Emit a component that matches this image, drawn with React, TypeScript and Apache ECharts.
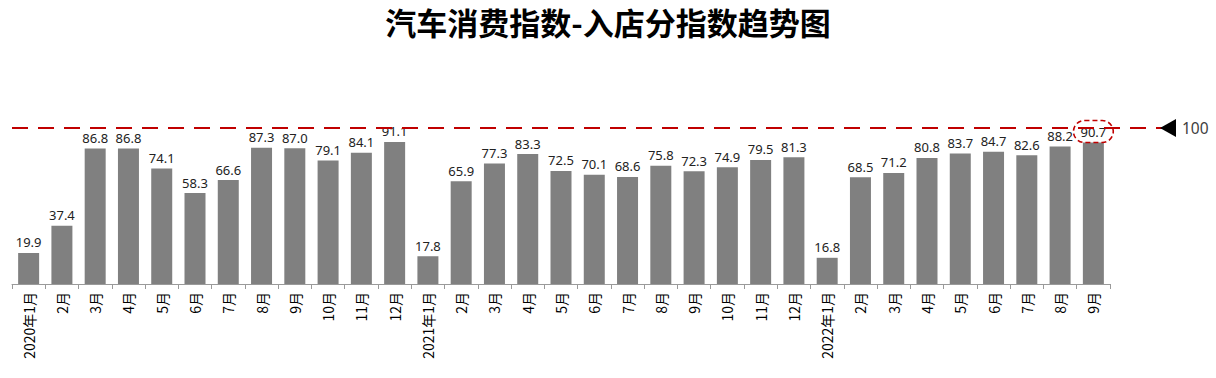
import React, { useEffect, useRef } from "react";
import * as echarts from "echarts";

const categories: string[] = [
  "2020年1月", "2月", "3月", "4月", "5月", "6月", "7月", "8月", "9月", "10月", "11月", "12月",
  "2021年1月", "2月", "3月", "4月", "5月", "6月", "7月", "8月", "9月", "10月", "11月", "12月",
  "2022年1月", "2月", "3月", "4月", "5月", "6月", "7月", "8月", "9月",
];

const values2020: number[] = [19.9, 37.4, 86.8, 86.8, 74.1, 58.3, 66.6, 87.3, 87.0, 79.1, 84.1, 91.1];
const values2021: number[] = [17.8, 65.9, 77.3, 83.3, 72.5, 70.1, 68.6, 75.8, 72.3, 74.9, 79.5, 81.3];
const values2022: number[] = [16.8, 68.5, 71.2, 80.8, 83.7, 84.7, 82.6, 88.2, 90.7];

const referenceValue = 100;
const title = "汽车消费指数-入店分指数趋势图";

export default function App() {
  const ref = useRef<HTMLDivElement>(null);
  useEffect(() => {
    document.body.style.margin = "0";
    if (!ref.current) return;
    const chart = echarts.init(ref.current, undefined, { renderer: "svg" });
    const all = [...values2020, ...values2021, ...values2022];
    const lastIndex = all.length - 1;
    const font = "'Noto Sans CJK SC', 'Noto Sans', sans-serif";
    const numFont = "'Noto Sans', 'Noto Sans CJK SC', sans-serif";
    const data = all.map((v, i) =>
      i === lastIndex
        ? {
            value: v,
            label: {
              borderColor: "#C00000",
              borderType: [5, 3],
              borderWidth: 1.6,
              borderRadius: 13,
              padding: [5, 7, 4, 7],
              distance: 0,
            },
          }
        : v
    );
    chart.setOption({
      animation: false,
      title: {
        text: title,
        left: "center",
        top: 1,
        textStyle: { fontSize: 31, fontWeight: "bold", color: "#000", fontFamily: font },
      },
      grid: [
        { left: 12, right: 106, top: 128, height: 156 },
        { left: 12, right: 48, top: 128, height: 156 },
      ],
      xAxis: [
        {
          type: "category",
          data: categories,
          gridIndex: 0,
          axisLine: { lineStyle: { color: "#9a9a9a", width: 1 } },
          axisTick: { show: true, length: 5, lineStyle: { color: "#9a9a9a" } },
          axisLabel: {
            rotate: 90,
            interval: 0,
            margin: 8,
            fontSize: 14,
            color: "#000",
            fontFamily: font,
          },
        },
        { type: "value", gridIndex: 1, min: 0, max: 1, show: false },
      ],
      yAxis: [
        { type: "value", gridIndex: 0, min: 0, max: 100, show: false },
        { type: "value", gridIndex: 1, min: 0, max: 100, show: false },
      ],
      series: [
        {
          type: "bar",
          xAxisIndex: 0,
          yAxisIndex: 0,
          data,
          barWidth: 21,
          itemStyle: { color: "#808080" },
          label: {
            show: true,
            position: "top",
            distance: 4,
            fontSize: 13,
            color: "#222",
            fontFamily: numFont,
            formatter: (p: any) => Number(p.value).toFixed(1),
          },
        },
        {
          type: "line",
          xAxisIndex: 1,
          yAxisIndex: 1,
          data: [],
          silent: true,
          markLine: {
            silent: true,
            symbol: ["none", "none"],
            lineStyle: { color: "#C00000", width: 2, type: [16, 10] },
            emphasis: { disabled: true },
            label: { show: false },
            data: [{ yAxis: referenceValue }],
          },
          markPoint: {
            silent: true,
            data: [
              {
                coord: [1, referenceValue],
                symbol: "triangle",
                symbolRotate: 90,
                symbolSize: [18, 16],
                itemStyle: { color: "#000" },
                label: {
                  show: true,
                  position: "right",
                  distance: 6,
                  formatter: String(referenceValue),
                  fontSize: 15.5,
                  color: "#404040",
                  fontFamily: numFont,
                },
              },
            ],
          },
        },
      ],
    });
    return () => chart.dispose();
  }, []);
  return <div ref={ref} style={{ width: 1216, height: 378 }} />;
}
